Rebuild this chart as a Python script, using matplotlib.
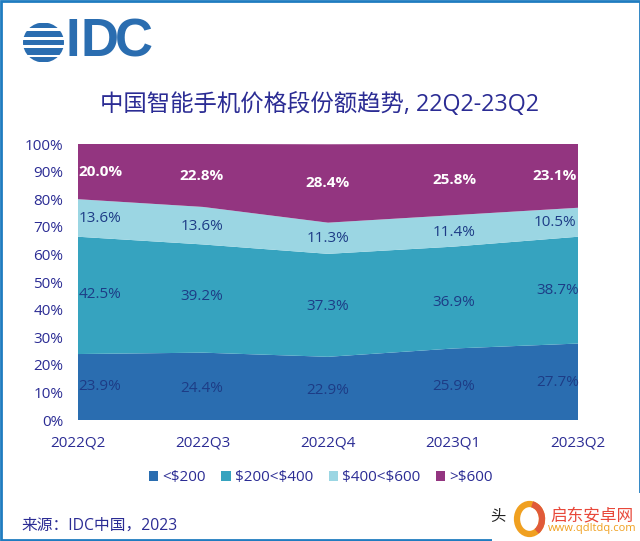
import matplotlib
matplotlib.use('Agg')
import matplotlib.pyplot as plt
from matplotlib.patches import Rectangle, Ellipse, Arc
import numpy as np

plt.rcParams['font.family'] = ['Open Sans', 'Noto Sans CJK SC', 'DejaVu Sans']

# values
quarters = ['2022Q2', '2022Q3', '2022Q4', '2023Q1', '2023Q2']
under_200 = [23.9, 24.4, 22.9, 25.9, 27.7]
from_200_400 = [42.5, 39.2, 37.3, 36.9, 38.7]
from_400_600 = [13.6, 13.6, 11.3, 11.4, 10.5]
over_600 = [20.0, 22.8, 28.4, 25.8, 23.1]
series_names = ['<\\$200', '\\$200<\\$400', '\\$400<\\$600', '>\\$600']
yticks = [0, 10, 20, 30, 40, 50, 60, 70, 80, 90, 100]

W, H = 640, 541
NAVY = '#2b2c94'
DARK = '#1d3c86'
colors = ['#2a6db0', '#36a3bf', '#9bd6e3', '#933580']

fig = plt.figure(figsize=(W / 100, H / 100), dpi=100)
ax = fig.add_axes([78 / W, 1 - 420 / H, 500 / W, 276 / H])

x = np.arange(len(quarters))
ax.stackplot(x, under_200, from_200_400, from_400_600, over_600, colors=colors,
             labels=series_names)
ax.set_xlim(0, 4)
ax.set_ylim(0, 100)
ax.set_xticks(x, quarters)
ax.set_yticks(yticks, [f'{v}%' for v in yticks])
ax.tick_params(length=0, labelsize=11, labelcolor=NAVY)
ax.tick_params(axis='x', pad=11)
ax.tick_params(axis='y', pad=10.5)
for s in ax.spines.values():
    s.set_visible(False)


# label positions in picture pixels, the labels do not sit at the band centres
def put(px, py, txt, **kw):
    fig.text(px / W, 1 - py / H, txt, ha='center', va='center', **kw)


label_x = [100, 202, 328, 454, 555]
rows = [
    (under_200, [387, 388, 390, 387, 383], DARK, 'normal'),
    (from_200_400, [295, 296, 306, 303, 291], DARK, 'normal'),
    (from_400_600, [219, 227, 239, 232, 223], DARK, 'normal'),
    (over_600, [172, 176, 183, 180, 176], 'white', 'bold'),
]
for vals, ys, col, weight in rows:
    for i, v in enumerate(vals):
        px = label_x[i]
        if i == 4 and col == DARK and v != 10.5:
            px = 558
        put(px, ys[i], f'{v:.1f}%', color=col, fontsize=11, fontweight=weight)

put(320, 105, '中国智能手机价格段份额趋势, 22Q2-23Q2', color=NAVY, fontsize=16.85)
fig.text(21 / W, 1 - 526 / H, '来源：IDC中国，2023', color=NAVY, fontsize=11.3,
         ha='left', va='center')

# legend
leg = ax.legend(loc='center', bbox_to_anchor=(321 / W, 1 - 478 / H),
                bbox_transform=fig.transFigure, ncol=4, frameon=False,
                handlelength=0.6, handleheight=0.6, handletextpad=0.3,
                columnspacing=1.0, fontsize=11)
for t in leg.get_texts():
    t.set_color(NAVY)

# overlay axes in pixel coordinates for logo, frame and corner mark
ov = fig.add_axes([0, 0, 1, 1], zorder=5)
ov.set_xlim(0, W)
ov.set_ylim(H, 0)
ov.axis('off')
ov.patch.set_alpha(0)

BLUE = '#2a6db0'
ov.add_patch(Rectangle((0.5, 0.5), W - 1, H - 1.5, fill=False, ec='#1f7cc0', lw=2))

# logo globe, stripes clipped to an ellipse
globe = Ellipse((43.5, 42.5), 41, 40, fc='none', ec='none')
ov.add_patch(globe)
for y0, y1 in [(23, 28), (31, 37), (40, 45), (48, 55), (57, 62)]:
    bar = Rectangle((20, y0), 48, y1 - y0, fc=BLUE, ec='none')
    ov.add_patch(bar)
    bar.set_clip_path(globe)
for letter, lx in [('I', 72.5), ('D', 99), ('C', 134)]:
    ov.text(lx, 42.5, letter, color=BLUE, fontsize=38, family='Liberation Sans',
            fontweight='bold', ha='center', va='center')

# corner mark of the reposting site
ov.add_patch(Rectangle((492, 493), 148, 48, fc='white', ec='none'))
ov.text(498, 518, '头', color='#222222', fontsize=11, ha='center', va='center')
ov.add_patch(Rectangle((503, 500), 8, 30, fc='white', ec='none'))
ov.add_patch(Ellipse((529.5, 519), 25, 30, fill=False, ec='#f0a020', lw=4.5))
ov.add_patch(Arc((529.5, 519), 25, 30, theta1=-80, theta2=60, ec='#e05a3a', lw=4.5))
ov.text(592, 516, '启东安卓网', color='#e8483a', fontsize=12, ha='center', va='center')
ov.text(592, 529, 'www.qdltdq.com', color='#f0a020', fontsize=8, ha='center', va='center')

fig.savefig('out.png', dpi=100)
